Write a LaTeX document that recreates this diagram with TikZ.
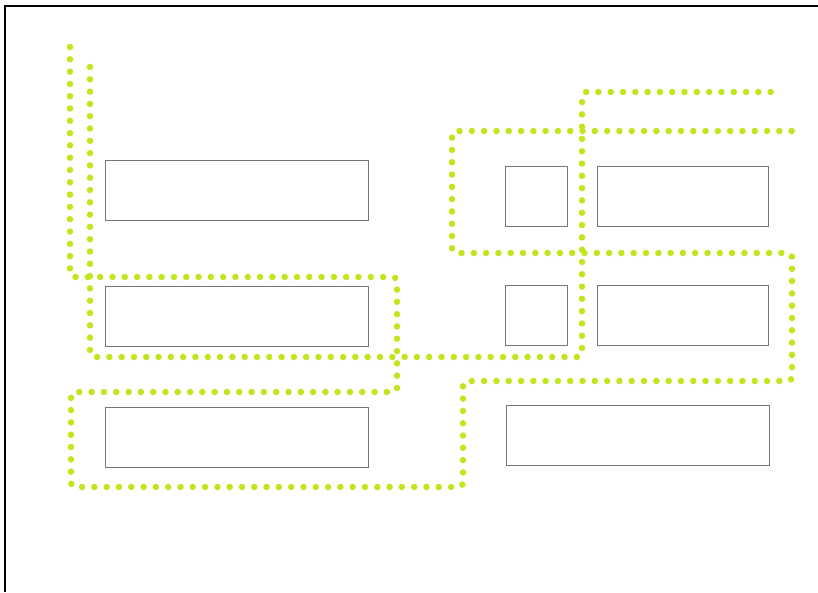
\documentclass[tikz,border=0pt]{standalone}
\usepackage{tikz}
\usetikzlibrary{positioning}
\definecolor{lime}{RGB}{192,230,30}
\definecolor{boxgray}{RGB}{118,118,118}

\begin{document}
\begin{tikzpicture}[
  x=1pt, y=-1pt,
  panel/.style={
    draw=boxgray,
    line width=1pt,
    minimum height=60pt,
    inner sep=0pt,
    outer sep=0pt
  },
  route/.style={
    draw=lime,
    line width=6.5pt,
    line cap=round,
    dash pattern=on 0pt off 12.3pt,
    rounded corners=4pt
  }
]
\useasboundingbox (0,0) rectangle (818,592);
\draw[line width=1.2pt] (818,6) -- (5,6) -- (5,592);

% left column
\node[panel,minimum width=263pt] (lw1) at (236.5,190.5) {};
\node[panel,minimum width=263pt,below=66pt of lw1] (lw2) {};
\node[panel,minimum width=263pt,below=61pt of lw2] (lw3) {};

% right column
\node[panel,minimum width=171pt] (rw1) at (682.5,196) {};
\node[panel,minimum width=62pt,left=30pt of rw1] (sq1) {};
\node[panel,minimum width=171pt,below=59pt of rw1] (rw2) {};
\node[panel,minimum width=62pt,left=30pt of rw2] (sq2) {};
\node[panel,minimum width=263pt] (rw3) at (637.5,435.5) {};

% dotted routes
\draw[route] (70,47) -- (70,277) -- (397,277) -- (397,392) -- (71,392)
  -- (71,487) -- (463,487) -- (463,381) -- (792,381) -- (792,253)
  -- (452,253) -- (452,131) -- (792,131);
\draw[route] (90,67) -- (90,357) -- (582,357) -- (582,92) -- (775,92);
\end{tikzpicture}
\end{document}
